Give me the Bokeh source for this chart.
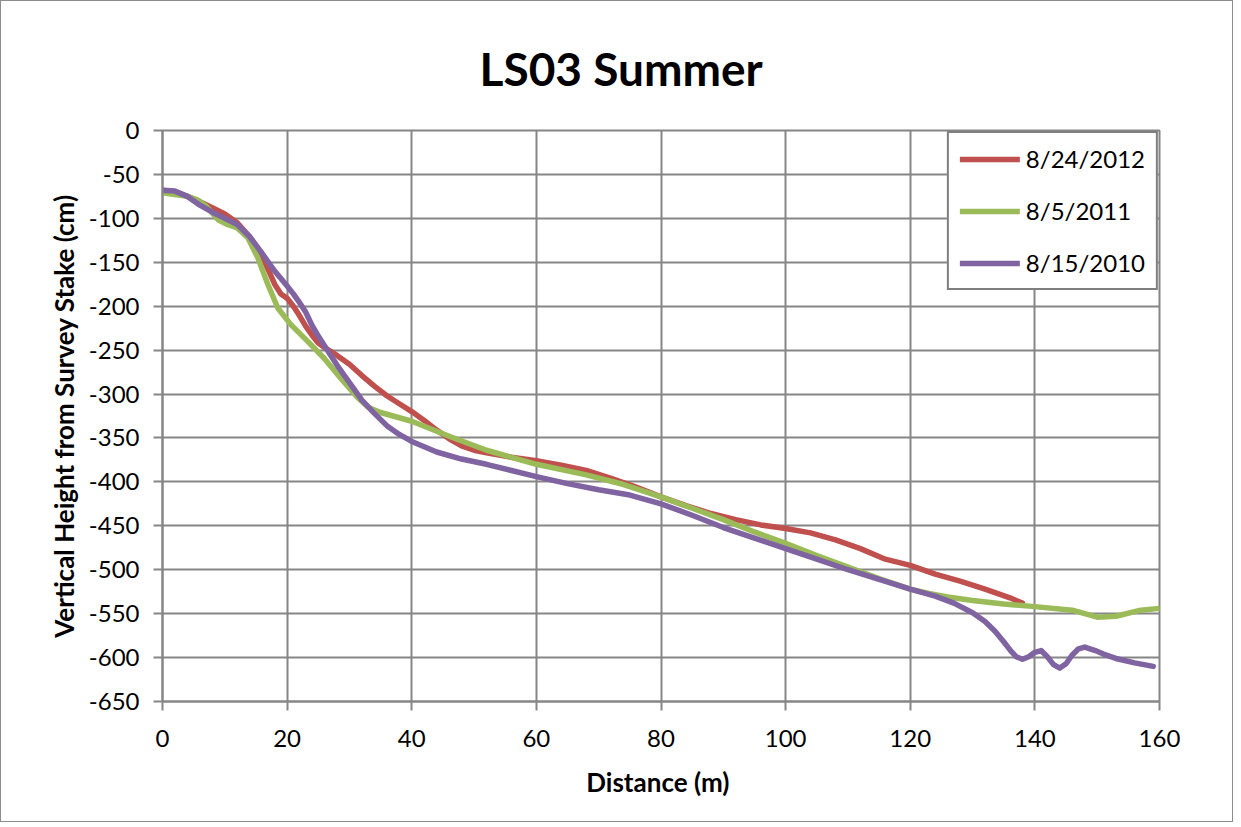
from bokeh.plotting import figure
from bokeh.models import Legend, LegendItem, Title, FixedTicker, Range1d
from bokeh.embed import file_html
from bokeh.resources import INLINE

# ---- data ----
series_labels = ["8/24/2012", "8/5/2011", "8/15/2010"]
colors = ["#C0504D", "#9BBB59", "#8064A2"]

d_2012 = [0, 2, 4, 6, 8, 10, 12, 14, 15, 16, 17, 18, 19, 20, 21, 22, 23, 24, 25, 26, 28, 30, 32, 34, 36, 38, 40,
          42, 44, 46, 48, 50, 52, 56, 60, 64, 68, 72, 76, 80, 84, 88, 92, 96, 100, 104, 108, 112, 116, 120,
          124, 128, 132, 136, 138]
v_2012 = [-68, -70, -75, -81, -88, -95, -105, -121, -131, -144, -159, -175, -186, -191, -200, -211, -223, -233,
          -242, -247, -256, -266, -279, -291, -302, -311, -320, -330, -341, -351, -359, -364, -367, -372, -376,
          -381, -387, -396, -406, -417, -427, -436, -443, -449, -453, -458, -466, -476, -488, -495, -505, -513,
          -522, -532, -538]

d_2011 = [0, 2, 4, 5.6, 7, 8, 9, 10.4, 12, 13.7, 15.3, 16.9, 18.5, 20.6, 23.3, 25.9, 28.6, 31.3, 33, 35, 40, 46,
          52, 60, 68, 74, 80, 85, 90, 95, 100, 105, 110, 115, 120, 123, 126, 130, 135, 140, 146, 150, 153, 157, 160]
v_2011 = [-71, -73, -75, -79, -86, -94, -102, -107, -111, -122, -145, -175, -202, -221, -240, -259, -282, -304,
          -315, -321, -331, -348, -364, -380, -392, -403, -417, -430, -443, -457, -470, -484, -497, -510, -522,
          -527, -531, -535, -539, -542, -546, -554, -553, -546, -544]

d_2010 = [0, 2, 4, 6, 8, 10, 12, 14, 16, 18, 20, 21, 22, 23, 24, 25, 26, 28, 30, 32, 34, 36, 38, 40, 44, 48, 52,
          56, 60, 65, 70, 75, 80, 85, 90, 95, 100, 105, 110, 115, 120, 124, 127, 130, 132, 133.6, 135, 136.2, 137,
          138, 139, 140, 141, 142, 143, 144, 145, 146, 147, 148, 149.7, 151, 153, 156, 159]
v_2010 = [-68, -69, -75, -85, -93, -100, -107, -121, -140, -160, -177, -186, -196, -207, -222, -234, -245, -267,
          -287, -307, -322, -336, -346, -354, -366, -374, -380, -387, -394, -402, -409, -415, -425, -438, -452,
          -464, -476, -488, -500, -511, -522, -530, -538, -549, -559, -570, -582, -593, -599, -602, -599, -594,
          -592, -599, -608, -612, -607, -597, -590, -588, -592, -596, -601, -606, -610]

x_ticks = list(range(0, 161, 20))
y_ticks = list(range(-650, 1, 50))

FONT = "Lato"

p = figure(width=1233, height=822, output_backend="svg", toolbar_location=None,
           x_range=Range1d(0, 160), y_range=Range1d(-650, 0),
           min_border_left=161, min_border_right=75, min_border_top=129, min_border_bottom=122)
p.styles = {"border": "1px solid #8c8c8c"}

title = Title(text="LS03 Summer", align="left", text_font=FONT, text_font_size="46px",
              text_font_style="bold", text_color="#000000", offset=317, standoff=70)
p.add_layout(title, "above")

for ax in (p.xaxis[0], p.yaxis[0]):
    ax.axis_line_color = "#868686"
    ax.axis_line_width = 2
    ax.major_tick_line_color = "#868686"
    ax.major_tick_line_width = 2
    ax.major_tick_out = 9
    ax.major_tick_in = 0
    ax.minor_tick_line_color = None
    ax.major_label_text_font = FONT
    ax.major_label_text_font_size = "24px"
    ax.major_label_text_color = "#000000"
    ax.axis_label_text_font = FONT
    ax.axis_label_text_font_size = "26px"
    ax.axis_label_text_font_style = "bold"
    ax.axis_label_text_color = "#000000"

p.xaxis[0].ticker = FixedTicker(ticks=x_ticks)
p.yaxis[0].ticker = FixedTicker(ticks=y_ticks)
p.xaxis[0].major_label_overrides = {t: str(t) for t in x_ticks}
p.yaxis[0].major_label_overrides = {t: str(t) for t in y_ticks}
p.xaxis[0].axis_label = "Distance  (m)"
p.yaxis[0].axis_label = "Vertical Height from Survey Stake (cm)"
p.xaxis[0].major_label_standoff = 19
p.yaxis[0].major_label_standoff = 14
p.xaxis[0].axis_label_standoff = 16
p.yaxis[0].axis_label_standoff = 6

p.xgrid.grid_line_color = "#868686"
p.ygrid.grid_line_color = "#868686"
p.xgrid.grid_line_width = 2
p.ygrid.grid_line_width = 2
p.xgrid.ticker = FixedTicker(ticks=x_ticks)
p.ygrid.ticker = FixedTicker(ticks=y_ticks)
p.outline_line_color = "#868686"
p.outline_line_width = 2

renderers = []
for xs, ys, c in [(d_2012, v_2012, colors[0]), (d_2011, v_2011, colors[1]), (d_2010, v_2010, colors[2])]:
    r = p.line(xs, ys, line_color=c, line_width=5.5, line_join="round", line_cap="round")
    renderers.append(r)

legend = Legend(items=[LegendItem(label=l, renderers=[r]) for l, r in zip(series_labels, renderers)],
                location="top_right")
legend.label_text_font = FONT
legend.label_text_font_size = "24px"
legend.label_text_color = "#000000"
legend.glyph_width = 60
legend.glyph_height = 26
legend.label_height = 26
legend.label_standoff = 6
legend.spacing = 23
legend.padding = 11
legend.margin = 1
legend.border_line_color = "#000000"
legend.border_line_width = 2
legend.background_fill_alpha = 1
p.add_layout(legend, "center")

open("out.html", "w").write(file_html(p, INLINE))
